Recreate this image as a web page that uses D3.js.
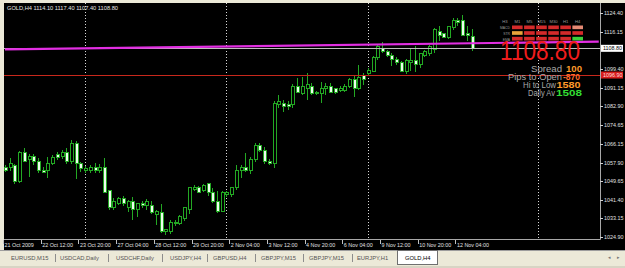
<!DOCTYPE html>
<html>
<head>
<meta charset="utf-8">
<script src="https://cdn.jsdelivr.net/npm/d3@7"></script>
<style>
  html, body { margin: 0; padding: 0; background: #ece9d8; }
  svg { display: block; font-family: "Liberation Sans", Arial, sans-serif; }
</style>
</head>
<body>
<svg id="chart" width="625" height="268"></svg>
<script>
// GOLD,H4 bars, first one is 21 Oct 2009 04:00
var opens = [1055.9, 1055.5, 1056.4, 1049.7, 1062.2, 1059.1, 1060.4, 1058.2, 1054.6, 1054.2,
  1057.7, 1061.3, 1060.4, 1062.6, 1058.2, 1066.6, 1057.3, 1054.2, 1054.2, 1055.9,
  1054.6, 1055.5, 1045.3, 1038.1, 1039.9, 1042.1, 1038.1, 1040.4, 1036.8, 1039.5,
  1038.6, 1038.6, 1034.6, 1035.9, 1027.0, 1027.4, 1030.6, 1031.0, 1033.2, 1037.2,
  1045.7, 1046.6, 1045.3, 1048.4, 1044.8, 1040.4, 1036.3, 1043.5, 1043.5, 1046.6,
  1054.6, 1055.5, 1054.2, 1059.1, 1065.7, 1063.5, 1058.6, 1057.3, 1084.0, 1084.4,
  1083.6, 1083.6, 1092.0, 1088.9, 1091.1, 1092.0, 1089.3, 1088.5, 1091.1, 1091.6,
  1090.7, 1090.2, 1090.2, 1091.6, 1094.7, 1091.1, 1096.5, 1097.8, 1098.7, 1104.5,
  1108.5, 1107.6, 1105.8, 1104.0, 1102.7, 1098.7, 1102.7, 1103.2, 1101.4, 1105.8,
  1106.3, 1108.1, 1116.5, 1115.2, 1113.8, 1117.9, 1121.4, 1121.0, 1115.6, 1114.1];
var highs = [1056.8, 1060.0, 1057.3, 1063.1, 1064.4, 1061.7, 1061.7, 1060.0, 1055.9, 1060.4,
  1061.3, 1062.6, 1063.5, 1064.4, 1068.0, 1067.5, 1058.2, 1056.4, 1056.8, 1057.7,
  1057.3, 1060.0, 1045.7, 1042.1, 1042.6, 1043.0, 1041.2, 1042.6, 1039.9, 1040.8,
  1041.7, 1040.8, 1036.8, 1039.5, 1028.3, 1032.3, 1032.3, 1034.6, 1038.1, 1047.0,
  1047.9, 1047.5, 1048.4, 1048.8, 1046.6, 1045.3, 1045.3, 1045.3, 1047.0, 1056.8,
  1056.8, 1062.2, 1060.4, 1066.6, 1066.6, 1064.9, 1059.5, 1085.3, 1088.0, 1085.8,
  1085.3, 1092.9, 1095.6, 1096.0, 1097.8, 1093.4, 1089.8, 1093.8, 1093.4, 1093.4,
  1091.1, 1092.0, 1092.9, 1095.6, 1096.9, 1101.4, 1097.8, 1100.0, 1105.4, 1110.3,
  1111.6, 1108.1, 1106.7, 1104.9, 1103.2, 1104.0, 1108.9, 1109.8, 1106.7, 1108.1,
  1110.3, 1117.9, 1118.7, 1115.6, 1118.7, 1122.3, 1122.3, 1123.6, 1118.7, 1117.4];
var lows = [1053.7, 1054.2, 1048.4, 1048.8, 1058.2, 1051.5, 1056.8, 1053.3, 1053.3, 1051.0,
  1056.8, 1059.1, 1059.5, 1057.3, 1057.3, 1050.6, 1053.7, 1053.3, 1053.3, 1053.3,
  1053.3, 1044.4, 1036.8, 1036.8, 1039.0, 1038.6, 1035.9, 1032.3, 1033.7, 1037.7,
  1036.8, 1035.0, 1030.1, 1026.5, 1025.7, 1026.1, 1029.7, 1030.1, 1031.9, 1035.0,
  1045.3, 1044.4, 1044.8, 1043.0, 1039.9, 1035.5, 1035.9, 1042.6, 1042.6, 1045.7,
  1051.0, 1053.7, 1052.8, 1058.2, 1062.6, 1057.3, 1056.8, 1055.5, 1082.2, 1080.4,
  1081.3, 1082.2, 1088.9, 1088.0, 1085.8, 1088.0, 1088.0, 1084.4, 1088.0, 1088.9,
  1088.5, 1089.3, 1089.3, 1091.1, 1087.1, 1090.2, 1092.5, 1096.5, 1098.3, 1103.6,
  1106.7, 1104.9, 1100.9, 1101.4, 1098.3, 1097.4, 1098.7, 1098.3, 1100.0, 1104.9,
  1105.4, 1106.7, 1112.1, 1113.4, 1113.0, 1117.0, 1118.7, 1114.7, 1112.1, 1107.4];
var closes = [1054.6, 1057.7, 1049.3, 1062.2, 1058.6, 1060.8, 1058.2, 1054.6, 1053.7, 1057.3,
  1060.0, 1060.0, 1062.2, 1058.2, 1066.6, 1057.3, 1055.1, 1055.1, 1055.9, 1054.6,
  1055.5, 1044.8, 1038.1, 1040.4, 1041.7, 1039.5, 1040.4, 1036.8, 1039.5, 1038.6,
  1040.8, 1035.5, 1036.3, 1027.0, 1027.9, 1031.4, 1031.4, 1034.1, 1037.7, 1046.6,
  1047.0, 1044.8, 1047.9, 1044.4, 1040.4, 1036.3, 1044.8, 1044.4, 1046.6, 1054.6,
  1055.9, 1054.2, 1059.5, 1065.7, 1063.5, 1058.2, 1057.3, 1084.4, 1084.9, 1082.7,
  1082.7, 1092.0, 1089.3, 1091.6, 1092.9, 1088.9, 1088.5, 1091.1, 1091.6, 1089.3,
  1089.3, 1091.1, 1092.0, 1094.7, 1091.1, 1095.6, 1094.7, 1099.1, 1104.9, 1109.8,
  1107.2, 1105.8, 1104.0, 1102.3, 1098.7, 1103.6, 1103.6, 1101.4, 1106.3, 1107.2,
  1109.4, 1117.4, 1114.7, 1113.8, 1118.3, 1121.4, 1120.5, 1114.7, 1114.3, 1108.8];

// one label every 8 bars, starting at bar 0
var timeLabels = ['21 Oct 2009', '22 Oct 12:00', '23 Oct 20:00', '27 Oct 04:00', '28 Oct 12:00',
  '29 Oct 20:00', '2 Nov 04:00', '3 Nov 12:00', '4 Nov 20:00', '6 Nov 04:00',
  '9 Nov 12:00', '10 Nov 20:00', '12 Nov 04:00'];
var priceTicks = [1124.40, 1116.15, 1099.40, 1091.15, 1082.90, 1074.65, 1066.15,
  1057.90, 1049.65, 1041.40, 1033.15, 1024.90];
var separators = [17, 47, 77, 113];   // bar index of the dotted period lines

var symbol = 'GOLD,H4';
var bidPrice = 1108.80;
var redLevel = 1096.90;
var trendBars = [0, 126];
var trendPrices = [1108.3, 1111.8];

var panelCols = ['M1', 'M5', 'M15', 'M30', 'H1', 'H4'];
var panelRows = ['MACD', 'STR', 'EMA'];
var panelState = [
  ['dn', 'dn', 'dn', 'dn', 'dn', 'wk'],
  ['md', 'dn', 'dn', 'dn', 'dn', 'dn'],
  ['dn', 'dn', 'dn', 'dn', 'dn', 'up']];
var infoLabels = ['Spread', 'Pips to Open', 'Hi to Low', 'Daily Av'];
var infoValues = ['100', '-870', '1580', '1508'];
var infoColors = ['#ff9a2a', '#ff6a2a', '#ff9a2a', '#33dd33'];

var tabs = ['EURUSD,M15', 'USDCAD,Daily', 'USDCHF,Daily', 'USDJPY,H4', 'GBPUSD,H4',
  'GBPJPY,M15', 'GBPJPY,M15', 'EURJPY,H1', 'GOLD,H4'];
var activeTab = 'GOLD,H4';

var green = '#23a823';
var svg = d3.select('#chart');

// window + chart background
svg.append('rect').attr('x', 0).attr('y', 0).attr('width', 625).attr('height', 268).attr('fill', '#ece9d8');
svg.append('rect').attr('x', 4).attr('y', 3).attr('width', 621).attr('height', 247).attr('fill', '#000');

var x = d3.scaleLinear().domain([0, 96]).range([5, 457.4]);
var y = d3.scaleLinear().domain([1024.90, 1124.40]).range([236.7, 13.3]);

var plot = {left: 4, right: 600, top: 3, bottom: 239};

// frame of the plot
svg.append('path')
  .attr('d', 'M' + plot.left + ',' + (plot.bottom + 0.5) + 'H' + (plot.right + 0.5) + 'V' + plot.top)
  .attr('stroke', '#a8a8a8').attr('fill', 'none');

var g = svg.append('g').attr('shape-rendering', 'crispEdges');

// period separators
g.selectAll('line.sep').data(separators).enter().append('line')
  .attr('class', 'sep')
  .attr('x1', function(d) { return Math.round(x(d)) + 0.5; })
  .attr('x2', function(d) { return Math.round(x(d)) + 0.5; })
  .attr('y1', plot.top).attr('y2', plot.bottom)
  .attr('stroke', '#d8d8d8').attr('stroke-dasharray', '1,2');

// red level line
svg.append('rect')
  .attr('x', plot.left).attr('width', plot.right - plot.left)
  .attr('y', Math.round(y(redLevel))).attr('height', 1)
  .attr('fill', '#c8281c');

// candles
var bars = d3.range(opens.length).map(function(i) {
  return {i: i, o: opens[i], h: highs[i], l: lows[i], c: closes[i]};
});
var candle = g.selectAll('g.bar').data(bars).enter().append('g').attr('class', 'bar');
candle.append('line')
  .attr('x1', function(d) { return Math.round(x(d.i)) + 0.5; })
  .attr('x2', function(d) { return Math.round(x(d.i)) + 0.5; })
  .attr('y1', function(d) { return y(d.h); })
  .attr('y2', function(d) { return y(d.l); })
  .attr('stroke', green);
candle.append('rect')
  .attr('x', function(d) { return Math.round(x(d.i)) - 1; })
  .attr('width', 3)
  .attr('y', function(d) { return y(Math.max(d.o, d.c)); })
  .attr('height', function(d) { return Math.max(1, y(Math.min(d.o, d.c)) - y(Math.max(d.o, d.c))); })
  .attr('fill', function(d) { return d.c < d.o ? '#eefcee' : '#000'; })
  .attr('stroke', green).attr('stroke-width', 1);

// bid line
g.append('line')
  .attr('x1', plot.left).attr('x2', plot.right)
  .attr('y1', Math.round(y(bidPrice)) + 0.5).attr('y2', Math.round(y(bidPrice)) + 0.5)
  .attr('stroke', '#bdbdbd');

// magenta trend line
svg.append('line')
  .attr('x1', x(trendBars[0])).attr('y1', y(trendPrices[0]))
  .attr('x2', Math.min(plot.right, x(trendBars[1]))).attr('y2', y(trendPrices[1]))
  .attr('stroke', '#e22ee2').attr('stroke-width', 2.2);

// price axis
var fmt = d3.format('.2f');
var yAxis = svg.append('g');
yAxis.selectAll('text').data(priceTicks).enter().append('text')
  .attr('x', 604).attr('y', function(d) { return y(d) + 2; })
  .attr('font-size', 5.4).attr('fill', '#e0e0e0')
  .text(function(d) { return fmt(d); });
yAxis.selectAll('line').data(priceTicks).enter().append('line')
  .attr('x1', 600).attr('x2', 603)
  .attr('y1', function(d) { return Math.round(y(d)) + 0.5; })
  .attr('y2', function(d) { return Math.round(y(d)) + 0.5; })
  .attr('stroke', '#d0d0d0');

// price boxes on the axis
svg.append('rect').attr('x', 601).attr('y', y(bidPrice) - 3.5).attr('width', 22).attr('height', 7).attr('fill', '#fff');
svg.append('text').attr('x', 603).attr('y', y(bidPrice) + 2).attr('font-size', 5.4).attr('fill', '#000').text(fmt(bidPrice));
svg.append('rect').attr('x', 601).attr('y', y(redLevel) - 3.5).attr('width', 22).attr('height', 7).attr('fill', '#d81c1c');
svg.append('text').attr('x', 603).attr('y', y(redLevel) + 2).attr('font-size', 5.4).attr('fill', '#ffdede').text(fmt(redLevel));

// time axis
var xAxis = svg.append('g');
xAxis.selectAll('text').data(timeLabels).enter().append('text')
  .attr('x', function(d, k) { return x(k * 8) - 0.5; })
  .attr('y', 247)
  .attr('font-size', 5.4).attr('fill', '#e0e0e0')
  .text(function(d) { return d; });
xAxis.selectAll('line').data(timeLabels).enter().append('line')
  .attr('x1', function(d, k) { return Math.round(x(k * 8)) - 1.5; })
  .attr('x2', function(d, k) { return Math.round(x(k * 8)) - 1.5; })
  .attr('y1', 240).attr('y2', 244)
  .attr('stroke', '#c0c0c0');

// header
svg.append('text').attr('x', 7).attr('y', 10).attr('font-size', 5.8).attr('fill', '#e6e6e6')
  .attr('textLength', 111).attr('lengthAdjust', 'spacingAndGlyphs')
  .text(symbol + ' ' + [opens[99], highs[99], lows[99], closes[99]].map(fmt).join(' '));

// signal panel
var cellX = d3.scaleBand().domain(panelCols).range([512, 583]).paddingInner(0.12);
var cellY = d3.scaleBand().domain(panelRows).range([25.5, 40.5]).paddingInner(0.35);
var stateColor = {dn: '#d42a2a', wk: '#e58a74', md: '#e8a33a', up: '#3ad03a'};
var panel = svg.append('g');
var colText = panel.append('text').attr('y', 23).attr('text-anchor', 'middle')
  .attr('font-size', 4.2).attr('fill', '#9a9a9a');
colText.append('tspan').attr('x', 505).text('H3');
colText.selectAll('tspan.col').data(panelCols).enter().append('tspan')
  .attr('class', 'col')
  .attr('x', function(d) { return cellX(d) + cellX.bandwidth() / 2; })
  .text(function(d) { return d; });
var rowText = panel.append('text').attr('text-anchor', 'end')
  .attr('font-size', 3.4).attr('fill', '#9a9a9a');
rowText.selectAll('tspan').data(panelRows).enter().append('tspan')
  .attr('x', 510).attr('y', function(d) { return cellY(d) + cellY.bandwidth(); })
  .text(function(d) { return d; });
panelRows.forEach(function(r, ri) {
  panel.selectAll('rect.r' + ri).data(panelCols).enter().append('rect')
    .attr('class', 'r' + ri)
    .attr('x', function(d) { return cellX(d); })
    .attr('y', cellY(r))
    .attr('width', cellX.bandwidth()).attr('height', cellY.bandwidth())
    .attr('fill', function(d, ci) { return stateColor[panelState[ri][ci]]; });
});

// big price
svg.append('text').attr('x', 500).attr('y', 59.5).attr('font-size', 27).attr('fill', '#f01c1c')
  .attr('textLength', 80).attr('lengthAdjust', 'spacingAndGlyphs')
  .text(fmt(bidPrice));

// info lines: label right edge, value left edge, widths
var infoLayout = [
  {lx: 562, lw: 31, vx: 566, vw: 16, by: 71.6},
  {lx: 562, lw: 54, vx: 563, vw: 17, by: 79.7},
  {lx: 556, lw: 33, vx: 556.5, vw: 24, by: 87.8},
  {lx: 555, lw: 27, vx: 556, vw: 26, by: 95.9}];
var info = svg.append('g');
infoLabels.forEach(function(lbl, k) {
  var L = infoLayout[k];
  var t = info.append('text').attr('y', L.by).attr('font-size', 8.6);
  t.append('tspan').attr('x', L.lx - L.lw)
    .attr('textLength', L.lw).attr('lengthAdjust', 'spacingAndGlyphs')
    .attr('fill', '#a9a9a9').text(lbl);
  t.append('tspan').attr('x', L.vx)
    .attr('textLength', L.vw).attr('lengthAdjust', 'spacingAndGlyphs')
    .attr('font-weight', 'bold').attr('fill', infoColors[k]).text(infoValues[k]);
});

// tab bar
var tabBar = svg.append('g');
tabBar.append('rect').attr('x', 0).attr('y', 250).attr('width', 625).attr('height', 18).attr('fill', '#ece9d8');
tabBar.append('line').attr('x1', 0).attr('x2', 625).attr('y1', 250.5).attr('y2', 250.5).attr('stroke', '#9d9d9d');
var tabX = [11, 60, 116, 170, 213, 261, 309, 357, 405];
var sepX = [55, 108, 162, 207, 255, 303, 352];
tabBar.append('rect').attr('x', 397.5).attr('y', 250.5).attr('width', 40).attr('height', 14)
  .attr('fill', '#fff').attr('stroke', '#6f6f6f');
tabBar.selectAll('text').data(tabs).enter().append('text')
  .attr('x', function(d, k) { return tabX[k]; })
  .attr('y', 259.5)
  .attr('font-size', 5.8)
  .attr('fill', function(d) { return d === activeTab ? '#000' : '#555'; })
  .text(function(d) { return d; });
tabBar.selectAll('line.tsep').data(sepX).enter().append('line')
  .attr('class', 'tsep')
  .attr('x1', function(d) { return d + 0.5; }).attr('x2', function(d) { return d + 0.5; })
  .attr('y1', 254).attr('y2', 262)
  .attr('stroke', '#8d8d8d');
tabBar.append('text').attr('x', 608).attr('y', 259).attr('font-size', 5).attr('fill', '#777').text('\u25C2');
tabBar.append('text').attr('x', 617).attr('y', 259).attr('font-size', 5).attr('fill', '#777').text('\u25B8');
tabBar.append('rect').attr('x', 0).attr('y', 266).attr('width', 625).attr('height', 2).attr('fill', '#d8d4c4');
</script>
</body>
</html>
